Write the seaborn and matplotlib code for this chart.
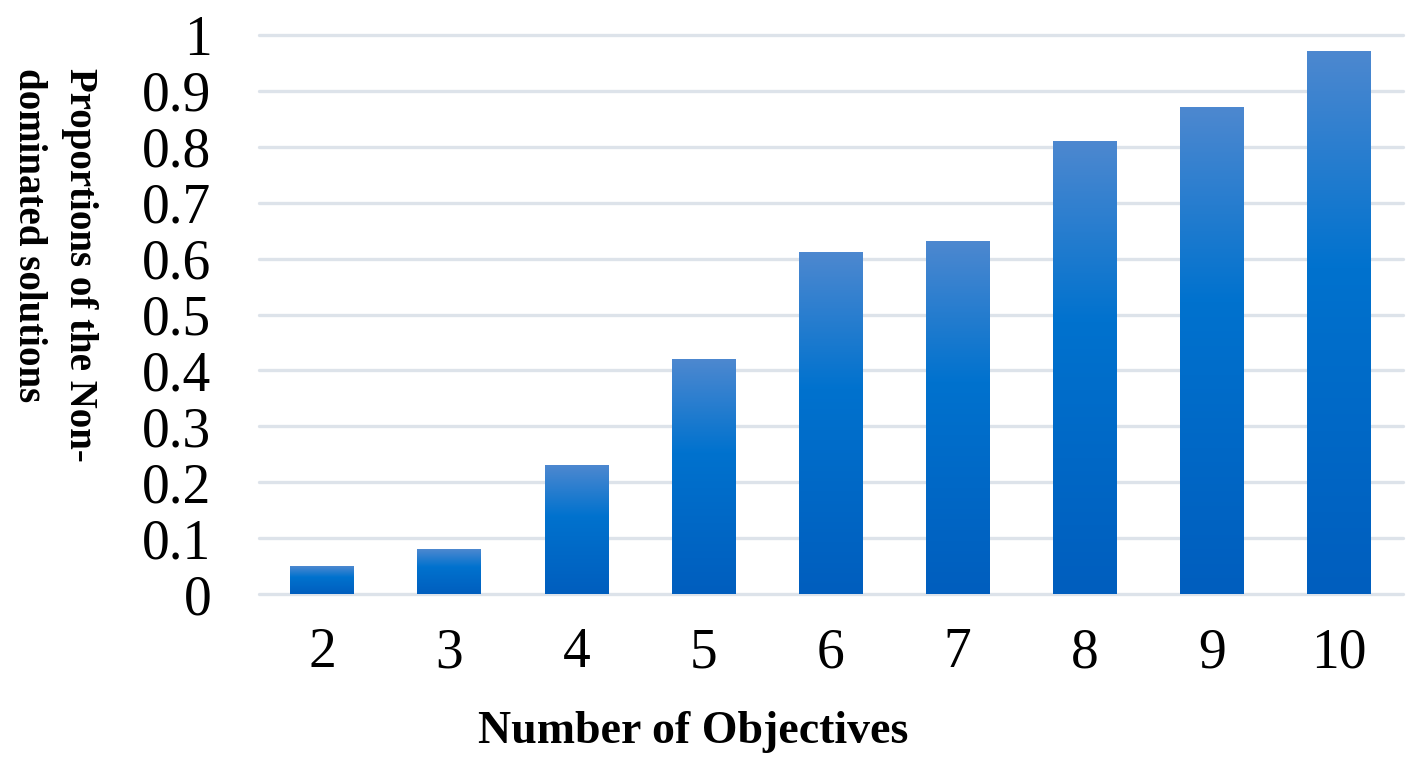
import matplotlib
matplotlib.use("Agg")
import matplotlib.pyplot as plt
from matplotlib.colors import LinearSegmentedColormap
import numpy as np
import pandas as pd
import seaborn as sns

# data
objectives = ["2", "3", "4", "5", "6", "7", "8", "9", "10"]
proportions = [0.05, 0.08, 0.23, 0.42, 0.61, 0.63, 0.81, 0.87, 0.97]
y_ticks = [0, 0.1, 0.2, 0.3, 0.4, 0.5, 0.6, 0.7, 0.8, 0.9, 1]
y_tick_labels = ["0", "0.1", "0.2", "0.3", "0.4", "0.5", "0.6", "0.7", "0.8", "0.9", "1"]

sns.set_theme(style="white")
plt.rcParams["font.family"] = ["Liberation Serif", "DejaVu Serif"]
plt.rcParams["text.color"] = "black"

df = pd.DataFrame({"Objectives": objectives, "Proportion": proportions})

fig = plt.figure(figsize=(14.21, 7.64), dpi=100)
ax = fig.add_axes([0.182, 0.2225, 0.805, 0.7317])

sns.barplot(data=df, x="Objectives", y="Proportion", color="#0072ce",
            width=0.5, ax=ax, zorder=2)

# Excel style vertical gradient inside each bar
grad = LinearSegmentedColormap.from_list(
    "bar_grad", [(0.0, "#4d88d0"), (0.4, "#0072ce"), (1.0, "#005ebe")])
grad_img = grad(np.linspace(0, 1, 256)).reshape(256, 1, 4)
for p in ax.patches:
    x0, y0, w, h = p.get_x(), p.get_y(), p.get_width(), p.get_height()
    ax.imshow(grad_img, extent=[x0, x0 + w, y0, y0 + h], aspect="auto",
              origin="upper", zorder=2, interpolation="bilinear")
    p.set_facecolor("none")
    p.set_edgecolor("none")

ax.set_xlim(-0.5, len(objectives) - 0.5)
ax.set_ylim(0, 1)
ax.set_yticks(y_ticks)
ax.set_yticklabels(y_tick_labels)

ax.yaxis.grid(True, color="#dde3ea", linewidth=2.4)
ax.xaxis.grid(False)
ax.set_axisbelow(True)
for gl in ax.get_ygridlines():
    gl.set_clip_on(False)
for s in ax.spines.values():
    s.set_visible(False)

ax.tick_params(axis="y", length=0, pad=34, labelsize=40, colors="black")
ax.tick_params(axis="x", length=0, pad=24, labelsize=40, colors="black")

ax.set_xlabel("")
ax.set_ylabel("")
fig.text(0.488, 0.0275, "Number of Objectives", ha="center", va="baseline",
         fontsize=33, fontweight="bold", color="black")
fig.text(0.038, 0.911, "Proportions of the Non-\ndominated solutions",
         rotation=270, ha="center", va="top", multialignment="left",
         fontsize=28, fontweight="bold", linespacing=1.5, color="black")

fig.savefig("out.png", dpi=100, facecolor="white")
